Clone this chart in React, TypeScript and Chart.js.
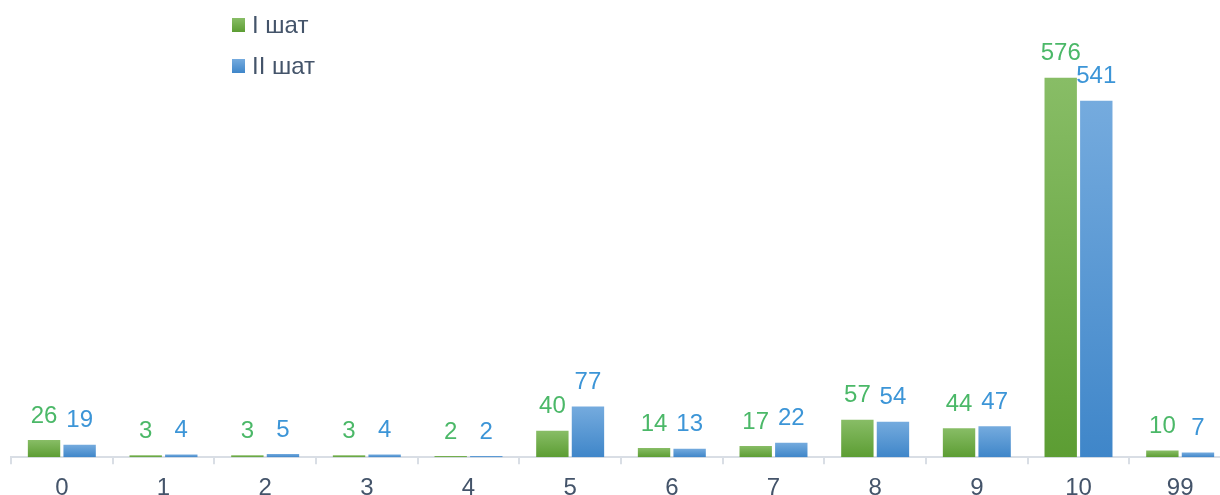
import React, { useEffect, useRef } from "react";
import { Chart, registerables } from "chart.js";

Chart.register(...registerables);

const categories = ["0", "1", "2", "3", "4", "5", "6", "7", "8", "9", "10", "99"];
const series1Name = "I шат";
const series2Name = "II шат";
const series1 = [26, 3, 3, 3, 2, 40, 14, 17, 57, 44, 576, 10];
const series2 = [19, 4, 5, 4, 2, 77, 13, 22, 54, 47, 541, 7];

const greenLabel = "#4BB868";
const blueLabel = "#3C95D7";
const textColor = "#44546A";
const FONT = '"Liberation Sans", Arial, sans-serif';

function barGrad(c: any, top: string, bottom: string) {
  const chart = c.chart;
  const ys = chart.scales && chart.scales.y;
  if (!chart.chartArea || !ys || c.raw == null) return top;
  const yTop = ys.getPixelForValue(c.raw);
  const yBot = ys.getPixelForValue(0);
  if (!isFinite(yTop) || !isFinite(yBot) || yBot - yTop < 0.5) return bottom;
  const g = chart.ctx.createLinearGradient(0, yTop, 0, yBot);
  g.addColorStop(0, top);
  g.addColorStop(1, bottom);
  return g;
}

const valueLabels = {
  id: "valueLabels",
  afterDatasetsDraw(chart: any) {
    const ctx = chart.ctx;
    ctx.save();
    ctx.font = `24px ${FONT}`;
    ctx.textAlign = "center";
    ctx.textBaseline = "middle";
    chart.data.datasets.forEach((ds: any, di: number) => {
      const meta = chart.getDatasetMeta(di);
      ctx.fillStyle = di === 0 ? greenLabel : blueLabel;
      meta.data.forEach((bar: any, i: number) => {
        ctx.fillText(String(ds.data[i]), bar.x, bar.y - 24);
      });
    });
    ctx.restore();
  },
};

export default function App() {
  const ref = useRef<HTMLCanvasElement>(null);
  useEffect(() => {
    if (!ref.current) return;
    const chart = new Chart(ref.current, {
      type: "bar",
      data: {
        labels: categories,
        datasets: [
          {
            label: series1Name,
            data: series1,
            backgroundColor: (c: any) => barGrad(c, "#88BD66", "#5C9D33"),
            categoryPercentage: 0.7,
            barPercentage: 0.91,
          },
          {
            label: series2Name,
            data: series2,
            backgroundColor: (c: any) => barGrad(c, "#75ABDE", "#3F86C9"),
            categoryPercentage: 0.7,
            barPercentage: 0.91,
          },
        ],
      },
      options: {
        animation: false,
        responsive: false,
        maintainAspectRatio: false,
        layout: { padding: { left: 11, right: 0, top: 62, bottom: 0 } },
        plugins: { legend: { display: false }, tooltip: { enabled: false } },
        scales: {
          x: {
            offset: true,
            grid: {
              display: true,
              drawOnChartArea: false,
              drawTicks: true,
              tickLength: 7,
              color: "#D9DEE5",
              lineWidth: 2,
              offset: true,
            },
            border: { display: true, color: "#D9DEE5", width: 2 },
            ticks: {
              color: textColor,
              font: { family: FONT, size: 24 },
              padding: 10,
            },
          },
          y: {
            display: false,
            min: 0,
            max: 600,
          },
        },
      },
      plugins: [valueLabels],
    });
    return () => chart.destroy();
  }, []);

  const legendItem = (color: string, text: string, center: number) => (
    <div
      style={{
        position: "absolute",
        left: 232,
        top: center - 14,
        height: 28,
        display: "flex",
        alignItems: "center",
        fontFamily: FONT,
        fontSize: 24,
        color: textColor,
        whiteSpace: "nowrap",
      }}
    >
      <span style={{ display: "inline-block", width: 13, height: 14, background: color, marginRight: 7 }} />
      {text}
    </div>
  );

  return (
    <div style={{ position: "fixed", left: 0, top: 0, width: 1220, height: 495, overflow: "hidden", background: "#fff" }}>
      <canvas ref={ref} width={1231} height={513} style={{ display: "block" }} />
      {legendItem("linear-gradient(#88BD66,#5C9D33)", series1Name, 25)}
      {legendItem("linear-gradient(#75ABDE,#3F86C9)", series2Name, 66)}
    </div>
  );
}
